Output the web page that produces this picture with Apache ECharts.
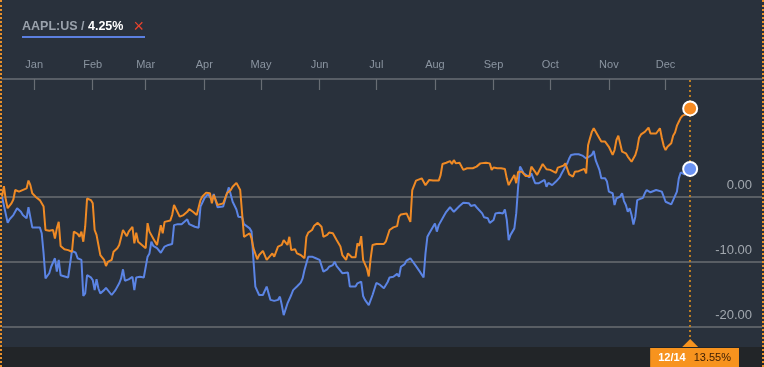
<!DOCTYPE html>
<html><head><meta charset="utf-8">
<script src="https://cdn.jsdelivr.net/npm/echarts@6/dist/echarts.min.js"></script>
<style>
html,body{margin:0;padding:0;background:#29313c;overflow:hidden;}
#wrap{position:relative;width:764px;height:367px;}
#chart{width:764px;height:367px;}
#wrap:before,#wrap:after{content:'';position:absolute;top:0;bottom:0;width:0;border-left:2px dotted #e8902a;z-index:5;}
#wrap:before{left:0}
#wrap:after{right:0}
</style></head>
<body><div id="wrap"><div id="chart"></div></div>
<script>
// ---- data (percent change since start, days counted from startDate) ----
const startDate = '2012-12-14';
const axisStart = '2012-12-15';
const axisEnd = '2014-01-21';
const monthStarts = ['2013-01-01','2013-02-01','2013-03-01','2013-04-01','2013-05-01','2013-06-01','2013-07-01','2013-08-01','2013-09-01','2013-10-01','2013-11-01','2013-12-01'];
const monthLabels = ['Jan','Feb','Mar','Apr','May','Jun','Jul','Aug','Sep','Oct','Nov','Dec'];
const gridValues = [0, -10, -20];
const mainName = 'Main';
const aaplName = 'AAPL:US';

const mainDays = [1,2,3,4,6,7,8,10,11,14,15,16,17,19,21,22,23,24,26,28,29,30,31,32,34,36,37,38,39,41,42,43,44,45,46,48,49,50,51,53,55,56,57,59,60,62,63,65,67,68,70,71,72,73,75,77,78,79,81,83,84,85,86,87,90,91,92,93,95,97,99,100,102,104,105,106,107,109,110,111,112,113,115,116,118,120,122,123,125,126,127,128,129,130,132,133,134,136,137,139,141,142,144,145,147,149,150,152,153,154,156,157,159,161,162,163,165,166,168,170,171,173,174,176,178,180,181,183,184,186,188,189,190,191,192,194,195,196,197,199,203,204,205,206,208,210,211,212,215,216,217,218,219,220,221,223,224,225,226,227,229,232,233,234,236,237,238,239,240,241,243,244,245,247,250,252,254,255,257,259,260,261,263,265,267,268,269,270,272,273,274,276,277,278,280,281,282,283,284,285,287,288,289,291,292,294,295,296,298,299,300,301,303,304,305,306,307,309,310,311,312,313,314,315,317,318,320,321,322,324,325,326,327,328,329,331,332,333,334,336,337,338,339,340,341,343,344,345,347,348,349,350,351,352,353,355,356,357,358,359,360,361,363,365];
const mainPct = [0,1.6,-0.5,-1.8,-1.05,-0.45,1.0,0.75,1.0,1.25,2.45,1.75,0.5,-0.1,-0.55,-0.3,-1.55,-5.15,-5.25,-5.15,-6.45,-4.9,-3.9,-7.6,-8.1,-8.25,-7.95,-8.5,-5.4,-5.75,-6.2,-5.4,-6.95,-4.65,-0.3,-0.55,-1.05,-5.15,-5.9,-9.0,-9.75,-10.7,-10.05,-9.75,-8.5,-7.95,-7.45,-5.15,-6.1,-5.4,-4.65,-7.2,-5.55,-6.95,-7.45,-7.95,-4.1,-5.4,-6.45,-7.45,-7.2,-4.4,-5.65,-3.9,-3.7,-2.85,-1.3,-1.05,-3.1,-2.85,-2.35,-1.95,-2.35,-2.85,-3.1,-0.55,0.0,0.6,0.5,0.5,-1.05,0.25,-1.3,-1.3,-1.05,0.5,1.0,1.5,2.1,2.05,1.0,0.9,-6.2,-6.1,-5.65,-6.45,-7.95,-9.65,-9.0,-8.35,-9.75,-9.5,-8.75,-9.25,-7.7,-7.45,-6.7,-7.45,-6.2,-8.25,-8.1,-8.75,-9.0,-9.5,-6.2,-5.55,-5.15,-4.55,-4.05,-4.65,-6.2,-5.9,-5.55,-5.65,-6.7,-7.7,-9.0,-9.75,-8.75,-9.35,-9.35,-7.2,-7.6,-6.1,-9.75,-11.05,-12.3,-9.5,-7.45,-7.3,-7.3,-6.95,-6.7,-5.15,-4.75,-4.55,-3.1,-2.75,-2.6,-2.35,-3.9,1.0,1.25,2.45,2.65,2.8,2.55,1.75,1.75,2.55,2.45,2.45,3.3,5.0,5.2,5.1,5.45,5.0,5.6,5.1,5.2,5.1,4.1,4.35,4.35,4.6,5.1,5.1,5.2,5.1,4.1,4.45,4.35,4.35,4.25,2.8,1.75,2.3,3.3,2.05,3.8,3.8,3.55,3.15,3.15,4.6,4.7,3.8,3.3,3.55,5.0,5.1,4.2,4.1,4.1,3.65,4.45,4.6,4.75,5.1,4.85,3.4,3.05,3.8,3.55,3.9,3.7,4.25,3.55,7.9,8.95,9.95,10.5,10.25,8.95,8.45,8.45,8.2,7.65,6.4,7.15,8.7,9.35,9.45,6.9,6.65,6.15,5.85,5.35,6.4,7.4,9.05,9.55,9.55,9.95,10.6,9.7,9.55,9.7,9.85,10.5,9.05,7.8,7.15,7.65,8.2,9.35,9.85,10.9,11.5,12.1,12.45,12.65,13.55];

const aaplDays = [1,2,4,5,7,8,9,11,12,14,15,17,19,21,22,23,24,26,27,29,30,31,32,33,36,37,38,40,41,43,44,45,46,48,49,50,51,52,53,55,56,59,61,63,64,65,66,68,70,71,72,74,76,78,79,80,81,83,85,86,87,89,91,92,94,96,97,99,100,103,105,106,108,110,111,112,113,115,116,118,120,121,122,123,125,126,128,129,130,132,133,134,135,137,139,140,141,142,143,145,147,148,149,150,151,152,154,155,156,157,159,160,161,163,165,167,169,171,173,174,176,177,178,179,181,182,184,185,188,189,190,191,192,193,195,197,199,201,203,205,206,208,210,211,212,214,215,217,218,220,222,224,225,226,227,228,229,230,231,232,233,235,236,238,240,241,243,245,246,248,249,251,252,253,255,256,258,259,261,262,264,266,267,268,269,270,272,273,274,275,276,277,278,280,281,282,283,285,286,288,289,290,291,292,294,296,297,299,300,301,302,303,304,306,308,310,311,313,314,315,317,318,320,321,322,324,325,326,328,329,330,331,332,333,334,335,336,337,338,340,341,342,344,345,347,348,350,351,352,353,355,356,358,359,360,362,363,365];
const aaplPct = [0,0,-4.05,-3.5,-2.85,-3.1,-1.8,-2.35,-2.85,-3.35,-1.65,-4.75,-4.75,-4.75,-5.65,-8.75,-12.6,-11.8,-10.8,-9.5,-11.55,-9.75,-12.1,-12.35,-12.45,-12.7,-8.35,-8.65,-9.5,-9.75,-15.3,-14.9,-12.1,-12.45,-12.85,-14.4,-12.7,-14.15,-14.9,-14.4,-14.05,-15.15,-14.4,-13.35,-12.6,-11.2,-12.95,-12.75,-12.35,-14.4,-12.45,-12.35,-12.45,-9.25,-8.75,-6.95,-7.6,-7.95,-8.65,-8.55,-7.7,-7.45,-7.3,-4.4,-4.25,-4.25,-4.05,-3.5,-4.25,-4.65,-4.8,-1.55,-0.3,0.4,0.5,-0.55,0.4,-1.65,-1.55,-1.55,0.5,1.4,1.25,-0.8,-2.0,-3.1,-3.2,-4.25,-4.55,-4.9,-5.4,-9.75,-13.85,-15.15,-15.15,-15.25,-13.85,-14.9,-15.9,-16.05,-15.9,-15.4,-16.7,-18.25,-17.95,-16.45,-15.15,-14.4,-14.65,-13.85,-13.25,-12.6,-11.3,-9.25,-9.25,-9.5,-9.75,-11.55,-11.2,-10.8,-10.55,-10.05,-10.7,-11.05,-11.8,-11.8,-11.7,-13.85,-13.85,-13.35,-13.6,-13.1,-15.3,-15.9,-16.7,-15.15,-13.3,-13.6,-14.1,-13.15,-12.45,-12.35,-11.9,-12.35,-10.8,-10.4,-9.85,-9.5,-9.5,-10.7,-11.55,-12.45,-8.75,-6.2,-5.65,-5.55,-4.65,-4.15,-5.4,-4.4,-4.3,-2.85,-2.35,-1.65,-2.35,-2.2,-1.45,-0.95,-1.15,-1.05,-1.45,-1.3,-1.65,-1.55,-2.6,-3.2,-3.35,-4.05,-3.6,-2.6,-2.5,-2.6,-2.0,-3.6,-6.7,-5.9,-4.9,-2.6,1.5,4.6,4.1,3.55,3.3,2.95,3.55,3.65,2.05,2.05,2.3,2.55,1.5,2.1,2.05,1.75,2.3,2.95,3.55,4.6,5.1,5.85,6.4,6.15,6.5,6.5,6.3,5.85,5.6,6.4,7.0,5.6,4.1,2.8,2.8,2.3,0.75,0.5,-1.3,-0.3,0.0,0.5,-0.7,-1.3,-2.35,-1.8,-2.85,-4.3,-3.1,-0.55,-0.4,-0.2,0.5,1.0,0.65,0.85,1.0,0.85,0.75,0.0,-0.8,-0.7,-1.2,-1.05,0.75,2.8,3.7,3.4,3.3,4.25];

// ---- build ----
const DAY = 864e5;
const t0 = Date.parse(startDate);
const toTime = d => t0 + d * DAY;
const mainData = mainDays.map((d, i) => [toTime(d), mainPct[i]]);
const aaplData = aaplDays.map((d, i) => [toTime(d), aaplPct[i]]);
const tickTimes = monthStarts.map(s => Date.parse(s));
const yMin = -23.15, yMax = 18.08;
const FONT = 'Liberation Sans, Arial, sans-serif';
const ORANGE = '#ef8a25', BLUE = '#5b84e4';

const lastMain = mainData[mainData.length - 1];
const lastAapl = aaplData[aaplData.length - 1];

const option = {
  backgroundColor: '#29313c',
  animation: false,
  grid: { left: 2, right: 2, top: 79, bottom: 20, containLabel: false },
  xAxis: {
    type: 'value', position: 'top', scale: true,
    min: Date.parse(axisStart), max: Date.parse(axisEnd),
    axisLine: { show: true, onZero: false, lineStyle: { color: '#686d74', width: 1.5 } },
    axisTick: { show: true, inside: true, length: 11, customValues: tickTimes, lineStyle: { color: '#686d74', width: 1.2 } },
    axisLabel: {
      show: true, customValues: tickTimes,
      formatter: v => monthLabels[new Date(v).getUTCMonth()],
      color: '#8b95a1', fontSize: 11, margin: 9, fontFamily: FONT
    },
    splitLine: { show: false }
  },
  yAxis: { type: 'value', min: yMin, max: yMax, show: false, splitLine: { show: false } },
  series: [
    {
      name: aaplName, type: 'line', data: aaplData, showSymbol: false, z: 2,
      lineStyle: { color: BLUE, width: 2 }, itemStyle: { color: BLUE },
      markLine: {
        silent: true, symbol: 'none', z: 1,
        lineStyle: { color: '#595e64', width: 2, type: 'solid' },
        label: {
          show: true, position: 'insideEndTop', distance: [10, 5],
          formatter: p => Number(p.value).toFixed(2),
          color: '#a1a7ae', fontSize: 13, fontFamily: FONT
        },
        emphasis: { disabled: true },
        data: gridValues.map(v => ({ yAxis: v }))
      },
      markPoint: {
        symbol: 'circle', symbolSize: 14, silent: true,
        itemStyle: { color: '#6b93f3', borderColor: '#ffffff', borderWidth: 2 },
        label: { show: false },
        data: [{ coord: lastAapl }]
      }
    },
    {
      name: mainName, type: 'line', data: mainData, showSymbol: false, z: 3,
      lineStyle: { color: ORANGE, width: 2 }, itemStyle: { color: ORANGE },
      markLine: {
        silent: true, symbol: 'none', z: 1,
        lineStyle: { color: '#b97b22', width: 2, type: [2, 3] },
        label: { show: false },
        emphasis: { disabled: true },
        data: [{ xAxis: lastMain[0] }]
      },
      markPoint: {
        symbol: 'circle', symbolSize: 14, silent: true, z: 6,
        itemStyle: { color: '#f58a22', borderColor: '#ffffff', borderWidth: 2 },
        label: { show: false },
        data: [{ coord: lastMain }]
      }
    }
  ]
};

const chart = echarts.init(document.getElementById('chart'), null, { renderer: 'canvas' });
chart.setOption(option);

const [px, py] = chart.convertToPixel({ gridIndex: 0 }, [lastMain[0], yMin]);
const ld = new Date(lastMain[0]);
const dateLabel = (ld.getUTCMonth() + 1) + '/' + ld.getUTCDate();
const fmtPct = v => v.toFixed(2) + '%';

chart.setOption({
  graphic: [
    { type: 'rect', left: 0, top: py, shape: { width: 764, height: 367 - py }, style: { fill: '#222528' }, z: 10, silent: true },
    { type: 'polygon', shape: { points: [[px - 8, py], [px, py - 8], [px + 8, py]] }, style: { fill: '#f7931e' }, z: 11, silent: true },
    {
      type: 'text', x: px - 40, y: py + 1, z: 12, silent: true,
      style: {
        text: '{d|' + dateLabel + '}{v|' + fmtPct(lastMain[1]) + '}',
        backgroundColor: '#f7931e', padding: [4, 8, 5, 8],
        rich: {
          d: { fill: '#ffffff', fontSize: 11, fontWeight: 'bold', fontFamily: FONT, padding: [0, 8, 0, 0] },
          v: { fill: '#3a1d04', fontSize: 11, fontFamily: FONT }
        }
      }
    },
    {
      type: 'text', x: 22, y: 27, z: 12, silent: true,
      style: {
        text: '{n|' + aaplName + ' / }{v|' + fmtPct(lastAapl[1]) + '}{x|×}',
        verticalAlign: 'middle',
        rich: {
          n: { fill: '#9aa2ac', fontSize: 12.5, fontWeight: 'bold', fontFamily: FONT },
          v: { fill: '#ffffff', fontSize: 12.5, fontWeight: 'bold', fontFamily: FONT },
          x: { fill: '#e8432d', fontSize: 18, fontFamily: FONT, padding: [0, 0, 0, 10] }
        }
      }
    },
    { type: 'rect', left: 22, top: 36, shape: { width: 123, height: 2 }, style: { fill: '#5b7fe0' }, z: 12, silent: true }
  ]
});
</script>
</body></html>
